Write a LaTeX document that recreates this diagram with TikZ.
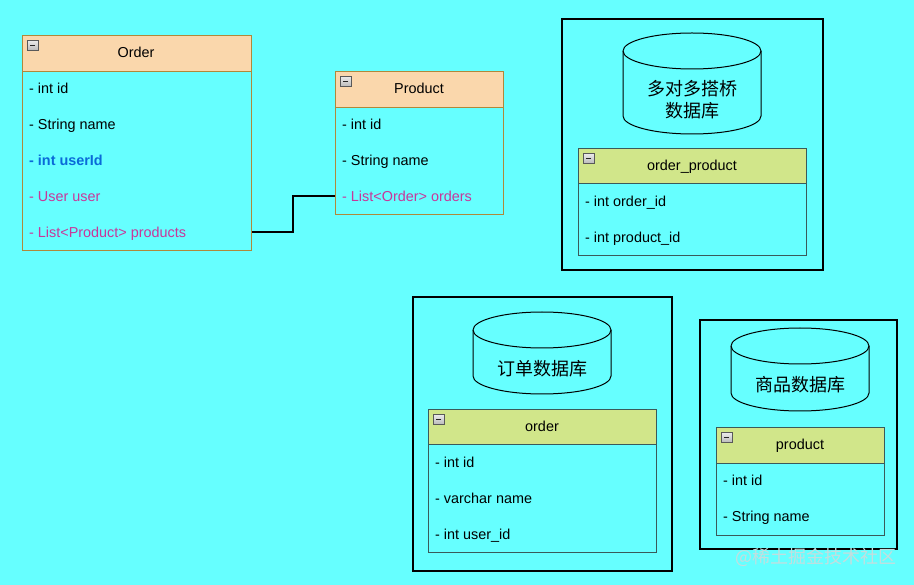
\documentclass[tikz,border=0pt]{standalone}
\usepackage{fontspec}
\setmainfont{Liberation Sans}
\newfontfamily\cjk{Noto Sans CJK SC}
\definecolor{bgc}{HTML}{66FFFF}
\definecolor{hdrO}{HTML}{FAD7AC}
\definecolor{hdrObd}{HTML}{B0883A}
\definecolor{hdrG}{HTML}{D1E68A}
\definecolor{hdrGbd}{HTML}{3A5A5A}
\definecolor{blueT}{HTML}{0A6AD8}
\definecolor{pinkT}{HTML}{C8379A}
\definecolor{wm}{HTML}{C4DEDE}
\tikzset{
  font=\fontsize{14.4pt}{16pt}\selectfont,
  hdrorange/.style={draw=hdrObd, fill=hdrO, line width=0.9pt, anchor=north west, inner sep=0pt},
  bodyorange/.style={draw=hdrObd, line width=0.9pt, anchor=north west, inner sep=0pt},
  hdrgreen/.style={draw=hdrGbd, fill=hdrG, line width=0.9pt, anchor=north west, inner sep=0pt},
  bodygreen/.style={draw=hdrGbd, line width=0.9pt, anchor=north west, inner sep=0pt},
  row/.style={anchor=west, inner sep=0pt, text=black, text height=13pt, text depth=1.5pt},
  title/.style={inner sep=0pt, text height=13pt, text depth=1.5pt},
  dbbox/.style={draw=black, line width=1.3pt},
  cyl/.style={draw=black, line width=1pt},
  cjktext/.style={font=\cjk\fontsize{18pt}{22pt}\selectfont, align=center, inner sep=0pt},
  minusicon/.style={draw=gray!70!black, top color=gray!15, bottom color=gray!55, line width=0.5pt, minimum size=10.5pt, inner sep=0pt, anchor=north west},
}
\newcommand{\minusbox}[2]{%
  \node[minusicon] (#1) at (#2) {};
  \draw[line width=1pt, black!85] ([xshift=2.7pt]#1.center) -- ([xshift=-2.7pt]#1.center);
}
\newcommand{\cylinder}[5]{% name, x1, x2, top, bottom
  \path[cyl, fill=bgc] (#2,#4+18) arc[start angle=180, end angle=360, x radius={(#3-#2)/2}, y radius=18]
     -- (#3,#5-18) arc[start angle=0, end angle=180, x radius={(#3-#2)/2}, y radius=18] -- cycle;
  \draw[cyl] (#2,#4+18) arc[start angle=180, end angle=0, x radius={(#3-#2)/2}, y radius=18];
  \coordinate (#1) at ({(#2+#3)/2},{(#4+#5)/2+9});
}
\begin{document}
\begin{tikzpicture}[x=1pt,y=-1pt]
\fill[bgc] (0,0) rectangle (914,585);
\useasboundingbox (0,0) rectangle (914,585);

% ---------- Order class ----------
\node[bodyorange, minimum width=229pt, minimum height=179pt] (ob) at (22,71) {};
\node[hdrorange, minimum width=229pt, minimum height=36pt] (oh) at (22,35) {};
\node[title] (ot) at (136,52) {Order};
\minusbox{oi}{27,40}
\node[row] (o1) at (29,88) {- int id};
\node[row] (o2) at (29,124) {- String name};
\node[row, text=blueT, font=\bfseries\fontsize{14.4pt}{16pt}\selectfont] (o3) at (29,160) {- int userId};
\node[row, text=pinkT] (o4) at (29,196) {- User user};
\node[row, text=pinkT] (o5) at (29,232) {- List<Product> products};

% ---------- Product class ----------
\node[bodyorange, minimum width=168pt, minimum height=107pt] (pb) at (335,107) {};
\node[hdrorange, minimum width=168pt, minimum height=36pt] (ph) at (335,71) {};
\node[title] (pt) at (419,88) {Product};
\minusbox{pi}{340,76}
\node[row] (p1) at (342,124) {- int id};
\node[row] (p2) at (342,160) {- String name};
\node[row, text=pinkT] (p3) at (342,196) {- List<Order> orders};

% connector
\coordinate (bend) at (293,232);
\draw[line width=1.2pt] (o5 -| ob.east) -- (bend) |- (p3 -| pb.west);

% ---------- bridge database ----------
\draw[dbbox] (562,19) rectangle (823,270);
\cylinder{c1}{623}{761}{33}{134}
\node[cjktext] (c1t) at (692,100) {多对多搭桥\\数据库};
\node[bodygreen, minimum width=228pt, minimum height=72pt] (opb) at (578,183) {};
\node[hdrgreen, minimum width=228pt, minimum height=35pt] (oph) at (578,148) {};
\node[title] (opt) at (692,165) {order\_product};
\minusbox{opi}{583,153}
\node[row] (op1) at (585,201) {- int order\_id};
\node[row] (op2) at (585,237) {- int product\_id};

% ---------- order database ----------
\draw[dbbox] (413,297) rectangle (672,571);
\cylinder{c2}{473}{611}{312}{394}
\node[cjktext] (c2t) at (542,369) {订单数据库};
\node[bodygreen, minimum width=228pt, minimum height=108pt] (tob) at (428,444) {};
\node[hdrgreen, minimum width=228pt, minimum height=35pt] (toh) at (428,409) {};
\node[title] (tot) at (542,426) {order};
\minusbox{toi}{433,414}
\node[row] (to1) at (435,462) {- int id};
\node[row] (to2) at (435,498) {- varchar name};
\node[row] (to3) at (435,534) {- int user\_id};

% ---------- product database ----------
\draw[dbbox] (700,320) rectangle (897,549);
\cylinder{c3}{731}{869}{328}{411}
\node[cjktext] (c3t) at (800,385) {商品数据库};
\node[bodygreen, minimum width=168pt, minimum height=72pt] (tpb) at (716,463) {};
\node[hdrgreen, minimum width=168pt, minimum height=36pt] (tph) at (716,427) {};
\node[title] (tpt) at (800,444) {product};
\minusbox{tpi}{721,432}
\node[row] (tp1) at (723,480) {- int id};
\node[row] (tp2) at (723,516) {- String name};

% watermark
\node[anchor=west, inner sep=0pt, text=wm, font=\cjk\fontsize{18pt}{20pt}\selectfont] (wmk) at (735,557) {@稀土掘金技术社区};
\end{tikzpicture}
\end{document}
